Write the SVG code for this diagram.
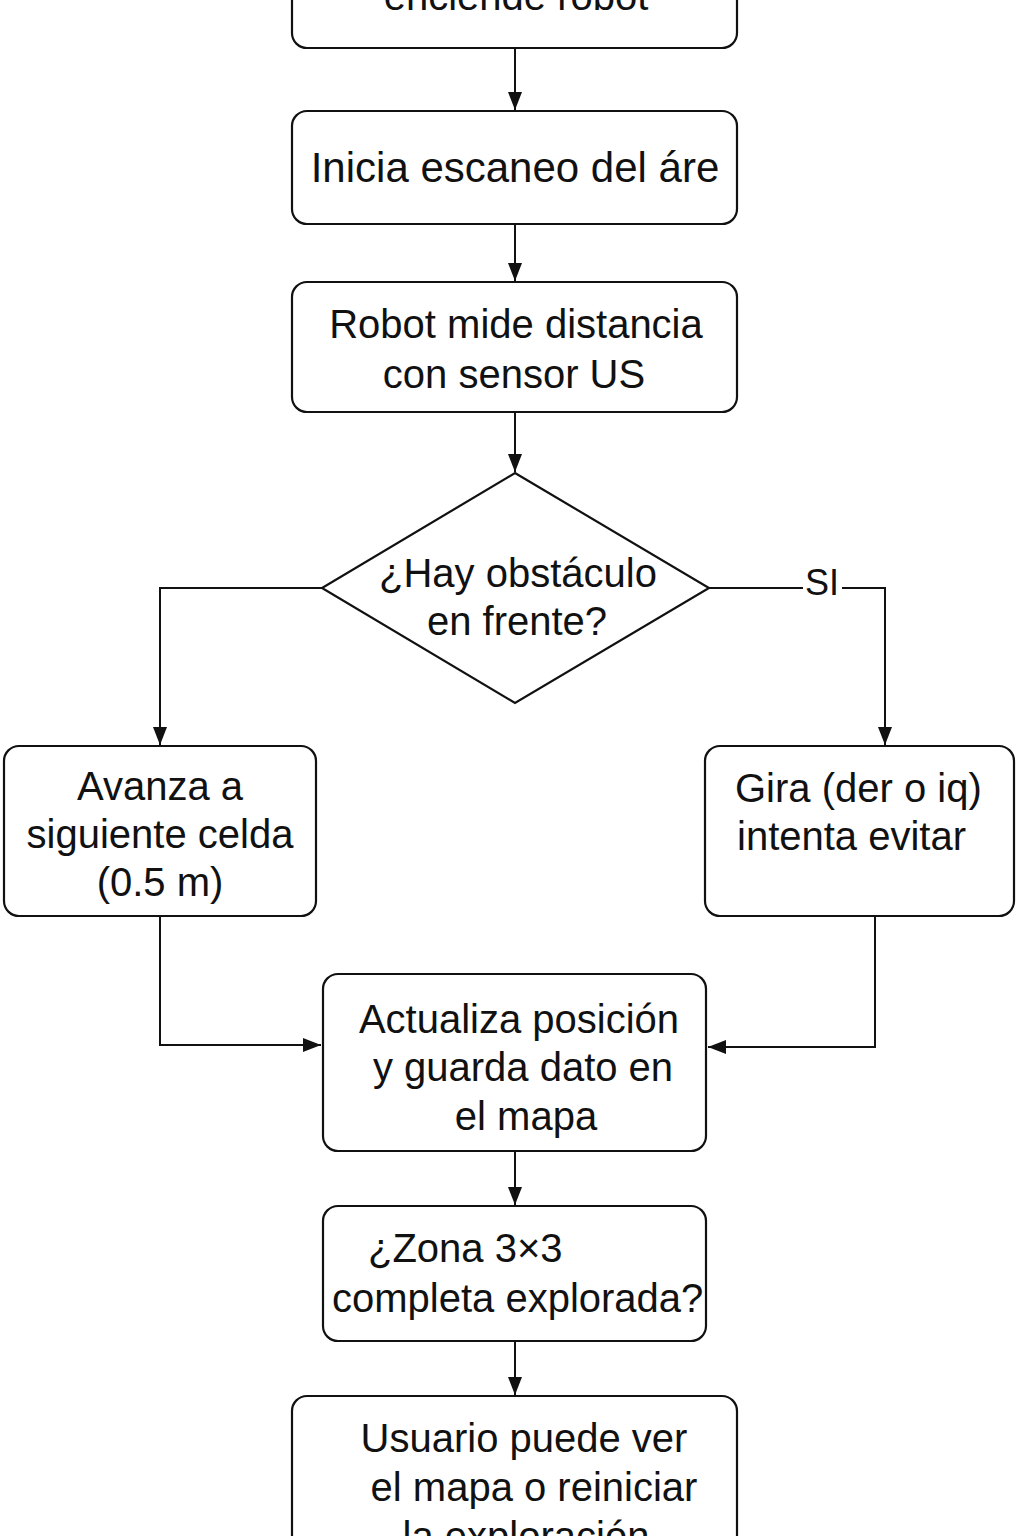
<svg xmlns="http://www.w3.org/2000/svg" width="1024" height="1536" viewBox="0 0 1024 1536">
<style>
.box{fill:#fff;stroke:#111;stroke-width:2.2}
.t{font-family:"Liberation Sans",Arial,sans-serif;font-size:40px;fill:#111}
.c{text-anchor:middle}
.ln{fill:none;stroke:#111;stroke-width:2}
</style>
<defs>
<marker id="ah" viewBox="0 0 18 14" refX="18" refY="7" markerWidth="18" markerHeight="14" markerUnits="userSpaceOnUse" orient="auto">
<path d="M0,0 L18,7 L0,14 Z" fill="#111"/>
</marker>
</defs>
<rect width="1024" height="1536" fill="#fff"/>
<g id="connectors">
<line class="ln" x1="515" y1="48" x2="515" y2="110" marker-end="url(#ah)"/>
<line class="ln" x1="515" y1="224" x2="515" y2="281" marker-end="url(#ah)"/>
<line class="ln" x1="515" y1="412" x2="515" y2="472" marker-end="url(#ah)"/>
<polyline class="ln" points="322,588 160,588 160,745" marker-end="url(#ah)"/>
<polyline class="ln" points="709,588 803,588"/>
<polyline class="ln" points="842,588 885,588 885,745" marker-end="url(#ah)"/>
<text class="t c" x="822" y="595" style="font-size:36px">SI</text>
<polyline class="ln" points="160,916 160,1045 321,1045" marker-end="url(#ah)"/>
<polyline class="ln" points="875,916 875,1047 708,1047" marker-end="url(#ah)"/>
<line class="ln" x1="515" y1="1151" x2="515" y2="1205" marker-end="url(#ah)"/>
<line class="ln" x1="515" y1="1341" x2="515" y2="1395" marker-end="url(#ah)"/>
</g>
<g id="n-start">
<rect class="box" x="292" y="-70" width="445" height="118" rx="15"/>
<text class="t c" x="516" y="10">enciende robot</text>
</g>
<g id="n-scan">
<rect class="box" x="292" y="111" width="445" height="113" rx="15"/>
<text class="t c" x="515" y="182" style="font-size:42px">Inicia escaneo del áre</text>
</g>
<g id="n-measure">
<rect class="box" x="292" y="282" width="445" height="130" rx="15"/>
<text class="t c" x="516" y="338">Robot mide distancia</text>
<text class="t c" x="514" y="388">con sensor US</text>
</g>
<g id="n-decision">
<polygon class="box" points="515,473 709,588 515,703 322,588"/>
<text class="t c" x="518" y="587">¿Hay obstáculo</text>
<text class="t c" x="517" y="635">en frente?</text>
</g>
<g id="n-advance">
<rect class="box" x="4" y="746" width="312" height="170" rx="15"/>
<text class="t c" x="160" y="800">Avanza a</text>
<text class="t c" x="160" y="848">siguiente celda</text>
<text class="t c" x="160" y="896">(0.5 m)</text>
</g>
<g id="n-turn">
<rect class="box" x="705" y="746" width="309" height="170" rx="15"/>
<text class="t" x="735" y="802">Gira (der o iq)</text>
<text class="t" x="737" y="850">intenta evitar</text>
</g>
<g id="n-update">
<rect class="box" x="323" y="974" width="383" height="177" rx="15"/>
<text class="t c" x="519" y="1033">Actualiza posición</text>
<text class="t c" x="523" y="1081">y guarda dato en</text>
<text class="t c" x="526" y="1130">el mapa</text>
</g>
<g id="n-zone">
<rect class="box" x="323" y="1206" width="383" height="135" rx="15"/>
<text class="t" x="368" y="1262">¿Zona 3×3</text>
<text class="t" x="332" y="1312">completa explorada?</text>
</g>
<g id="n-user">
<rect class="box" x="292" y="1396" width="445" height="200" rx="15"/>
<text class="t c" x="524" y="1452">Usuario puede ver</text>
<text class="t c" x="534" y="1501">el mapa o reiniciar</text>
<text class="t c" x="526" y="1550">la exploración</text>
</g>
</svg>
